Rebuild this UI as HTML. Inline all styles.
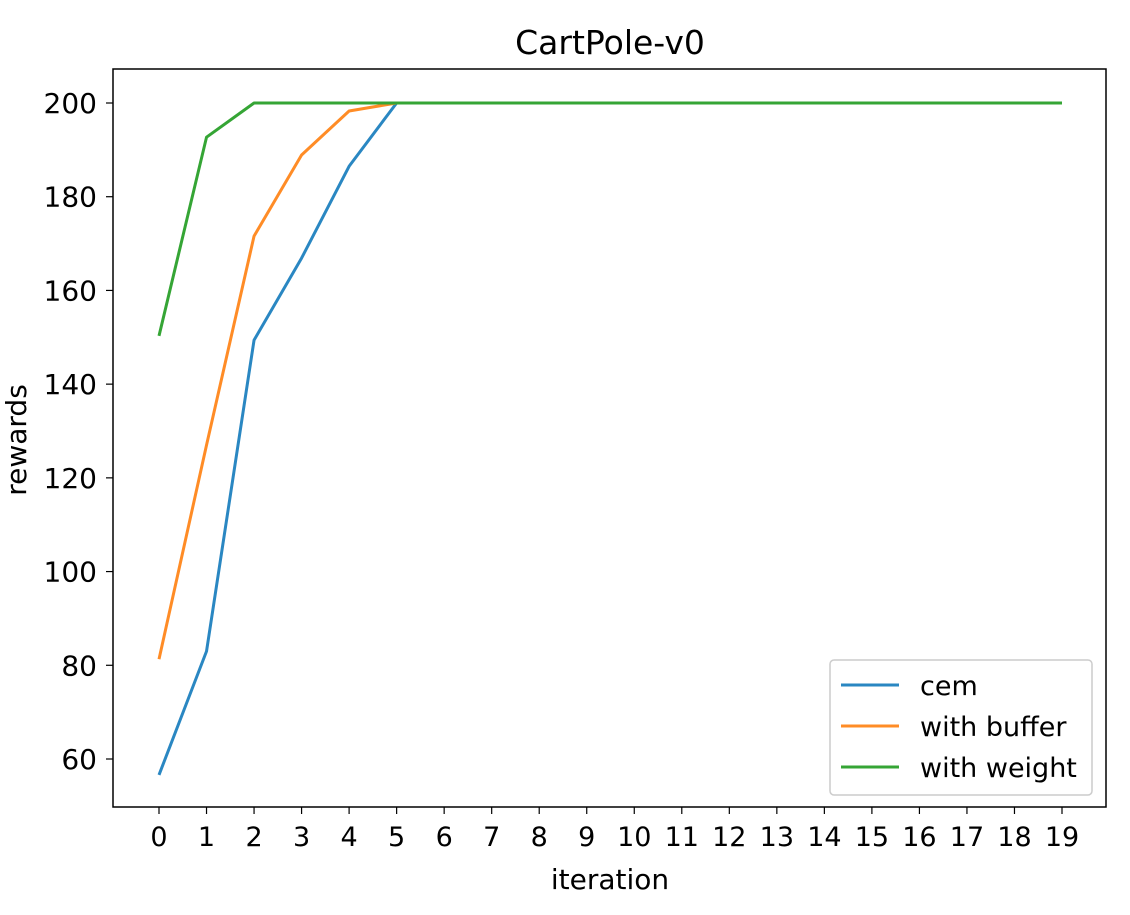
<!DOCTYPE html>
<html><head><meta charset="utf-8"><style>
body{margin:0;background:#fff;}
text{font-family:"DejaVu Sans","Liberation Sans",sans-serif;fill:#000;}
</style></head><body>
<svg id="chart" width="1130" height="910" xmlns="http://www.w3.org/2000/svg">
<text x="610" y="54" font-size="33" text-anchor="middle">CartPole-v0</text>
<g id="plot"></g>
<rect x="113" y="69" width="993" height="738" fill="none" stroke="#000" stroke-width="1.5"/>
<text x="610" y="889" font-size="28" text-anchor="middle">iteration</text>
<text x="0" y="0" font-size="28" text-anchor="middle" transform="translate(26,440) rotate(-90)">rewards</text>
<g id="legend">
<rect x="830" y="660" width="262" height="135" rx="4" fill="#fff" stroke="#ccc" stroke-width="1.5"/>
</g>
</svg>
<script>
const iterations=[0,1,2,3,4,5,6,7,8,9,10,11,12,13,14,15,16,17,18,19];
const yTicks=[60,80,100,120,140,160,180,200];
const seriesNames=["cem","with buffer","with weight"];
const seriesColors=["#2a87c2","#ff8c26","#35a535"];
const cem=[56.6,83,149.4,166.9,186.5,200,200,200,200,200,200,200,200,200,200,200,200,200,200,200];
const withBuffer=[81.3,127,171.6,188.9,198.3,200,200,200,200,200,200,200,200,200,200,200,200,200,200,200];
const withWeight=[150.3,192.7,200,200,200,200,200,200,200,200,200,200,200,200,200,200,200,200,200,200];
const allSeries=[cem,withBuffer,withWeight];
const NS="http://www.w3.org/2000/svg";
const xs=i=>159+i*(1062-159)/19;
const ys=v=>759-(v-60)*(759-103)/140;
const plot=document.getElementById('plot');
function mk(tag,attrs,parent){const e=document.createElementNS(NS,tag);for(const k in attrs)e.setAttribute(k,attrs[k]);parent.appendChild(e);return e;}
iterations.forEach(i=>{
 const t=mk('line',{x1:xs(i),x2:xs(i),y1:807,y2:814,stroke:'#000','stroke-width':1.2},plot);
 
 
 const l=mk('text',{x:xs(i),y:846,'font-size':27,'text-anchor':'middle'},plot);
 l.textContent=i;
 
 
});
yTicks.forEach(v=>{
 const t=mk('line',{x1:106,x2:113,y1:ys(v),y2:ys(v),stroke:'#000','stroke-width':1.2},plot);
 
 
 const l=mk('text',{x:97,y:ys(v)+10,'font-size':28,'text-anchor':'end'},plot);
 l.textContent=v;
 
 
});
allSeries.forEach((s,k)=>{
 const p=mk('polyline',{points:s.map((v,i)=>xs(iterations[i])+','+ys(v)).join(' '),fill:'none',stroke:seriesColors[k],'stroke-width':3,'stroke-linejoin':'round'},plot);
 
 
});
const lg=document.getElementById('legend');
seriesNames.forEach((n,k)=>{
 const y=685+k*41;
 const l=mk('line',{x1:841,x2:899,y1:y,y2:y,stroke:seriesColors[k],'stroke-width':3},lg);
 
 
 const t=mk('text',{x:920,y:y+10,'font-size':27},lg);
 t.textContent=n;
 
 
});
</script>
</body></html>
